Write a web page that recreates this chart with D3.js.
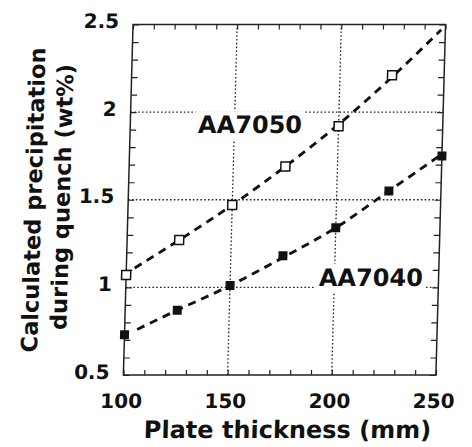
<!DOCTYPE html>
<html>
<head>
<meta charset="utf-8">
<script src="https://cdn.jsdelivr.net/npm/d3@7"></script>
<style>
  body { margin: 0; background: #fff; }
  text { font-family: "DejaVu Sans", sans-serif; font-weight: bold; fill: #111; }
</style>
</head>
<body>
<script>
  // values
  var thickness7050 = [100, 125, 150, 175, 200, 225];
  var precip7050 = [1.07, 1.27, 1.47, 1.69, 1.92, 2.21];
  var thickness7040 = [100, 125, 150, 175, 200, 225, 250];
  var precip7040 = [0.73, 0.87, 1.01, 1.18, 1.34, 1.55, 1.75];

  // dashed fit curves
  var fitX7050 = [104, 125, 150, 175, 200, 225, 248];
  var fitY7050 = [1.11, 1.27, 1.47, 1.69, 1.93, 2.20, 2.47];
  var fitX7040 = [106, 125, 150, 175, 200, 225, 250];
  var fitY7040 = [0.76, 0.87, 1.01, 1.17, 1.34, 1.55, 1.76];

  var xTicks = [100, 150, 200, 250];
  var yTicks = [0.5, 1, 1.5, 2, 2.5];
  var yTickLabels = ["0.5", "1", "1.5", "2", "2.5"];
  var xGrid = [150, 200];
  var yGrid = [1, 1.5, 2];

  var seriesNames = ["AA7050", "AA7040"];
  var labelAt = [[157.5, 1.88], [217.5, 1.01]];

  var width = 472,
    height = 447;

  var x = d3.scaleLinear().domain([100, 250]).range([123.4, 435.9]);
  var y = d3.scaleLinear().domain([0.5, 2.5]).range([375, 24.5]);

  var svg = d3.select("body").append("svg")
    .attr("width", width)
    .attr("height", height);

  // the scan leans a little to the right, so shear everything around the bottom edge
  var g = svg.append("g")
    .attr("transform", "translate(0,375) skewX(-1.575) translate(0,-375)");

  //dotted grid at the labelled values
  g.selectAll(".vgrid").data(xGrid).enter().append("line")
    .attr("x1", function(d) { return x(d); })
    .attr("x2", function(d) { return x(d); })
    .attr("y1", y(0.5))
    .attr("y2", y(2.5))
    .attr("stroke", "#222")
    .attr("stroke-width", 1.3)
    .attr("stroke-dasharray", "1.6,2.2");

  g.selectAll(".hgrid").data(yGrid).enter().append("line")
    .attr("x1", x(100))
    .attr("x2", x(250))
    .attr("y1", function(d) { return y(d); })
    .attr("y2", function(d) { return y(d); })
    .attr("stroke", "#222")
    .attr("stroke-width", 1.3)
    .attr("stroke-dasharray", "1.6,2.2");

  //series labels sit on white boxes that cut the grid
  seriesNames.forEach(function(name, i) {
    var box = g.append("rect").attr("fill", "#fff");
    var t = g.append("text")
      .attr("x", x(labelAt[i][0]))
      .attr("y", y(labelAt[i][1]))
      .attr("text-anchor", "middle")
      .attr("font-size", 24)
      .text(name);
    var b = t.node().getBBox();
    box.attr("x", b.x - 3).attr("y", b.y)
      .attr("width", b.width + 6).attr("height", b.height + 2);
  });

  //dashed fits
  var line = d3.line()
    .x(function(d) { return x(d[0]); })
    .y(function(d) { return y(d[1]); })
    .curve(d3.curveMonotoneX);

  [[fitX7050, fitY7050], [fitX7040, fitY7040]].forEach(function(f) {
    g.append("path")
      .attr("d", line(d3.zip(f[0], f[1])))
      .attr("fill", "none")
      .attr("stroke", "#111")
      .attr("stroke-width", 2.9)
      .attr("stroke-dasharray", "8,6");
  });

  //inward minor ticks on all four sides
  var xMinor = d3.range(100, 251, 10);
  var yMinor = d3.range(5, 26).map(function(d) { return d / 10; });

  function tickStyle(sel) {
    sel.select(".domain").remove();
    sel.selectAll(".tick line").attr("stroke", "#222").attr("stroke-width", 1.2);
  }

  g.append("g").attr("transform", "translate(0," + y(0.5) + ")")
    .call(d3.axisBottom(x).tickValues(xMinor).tickSize(-5).tickFormat(""))
    .call(tickStyle);
  g.append("g").attr("transform", "translate(0," + y(2.5) + ")")
    .call(d3.axisTop(x).tickValues(xMinor).tickSize(-5).tickFormat(""))
    .call(tickStyle);
  g.append("g").attr("transform", "translate(" + x(100) + ",0)")
    .call(d3.axisLeft(y).tickValues(yMinor).tickSize(-6).tickFormat(""))
    .call(tickStyle);
  g.append("g").attr("transform", "translate(" + x(250) + ",0)")
    .call(d3.axisRight(y).tickValues(yMinor).tickSize(-6).tickFormat(""))
    .call(tickStyle);

  //tick labels
  var xLab = g.append("g").attr("transform", "translate(0," + y(0.5) + ")")
    .call(d3.axisBottom(x).tickValues(xTicks).tickSize(0).tickPadding(19).tickFormat(d3.format("d")));
  xLab.select(".domain").remove();
  xLab.selectAll("text").attr("font-size", 20).attr("font-family", null).attr("dx", -2);

  var yLab = g.append("g").attr("transform", "translate(" + x(100) + ",0)")
    .call(d3.axisLeft(y).tickValues(yTicks).tickSize(0).tickPadding(14)
      .tickFormat(function(d, i) { return yTickLabels[i]; }));
  yLab.select(".domain").remove();
  yLab.selectAll("text").attr("font-size", 20).attr("font-family", null).attr("dy", 3);

  //frame
  g.append("rect")
    .attr("x", x(100))
    .attr("y", y(2.5))
    .attr("width", x(250) - x(100))
    .attr("height", y(0.5) - y(2.5))
    .attr("fill", "none")
    .attr("stroke", "#222")
    .attr("stroke-width", 1.5);

  //markers
  var s = 9;
  g.selectAll(".open").data(d3.zip(thickness7050, precip7050)).enter().append("rect")
    .attr("x", function(d) { return x(d[0]) - s / 2; })
    .attr("y", function(d) { return y(d[1]) - s / 2; })
    .attr("width", s).attr("height", s)
    .attr("fill", "#fff")
    .attr("stroke", "#111")
    .attr("stroke-width", 1.5);

  g.selectAll(".filled").data(d3.zip(thickness7040, precip7040)).enter().append("rect")
    .attr("x", function(d) { return x(d[0]) - s / 2; })
    .attr("y", function(d) { return y(d[1]) - s / 2; })
    .attr("width", s).attr("height", s)
    .attr("fill", "#111");

  //axis titles
  g.append("text")
    .attr("x", 289)
    .attr("y", 438)
    .attr("text-anchor", "middle")
    .attr("font-size", 24)
    .text("Plate thickness (mm)");

  g.append("text")
    .attr("transform", "translate(36.5,200) rotate(-90)")
    .attr("text-anchor", "middle")
    .attr("font-size", 22.5)
    .text("Calculated precipitation");

  g.append("text")
    .attr("transform", "translate(65,197) rotate(-90)")
    .attr("text-anchor", "middle")
    .attr("font-size", 22.5)
    .text("during quench (wt%)");
</script>
</body>
</html>
